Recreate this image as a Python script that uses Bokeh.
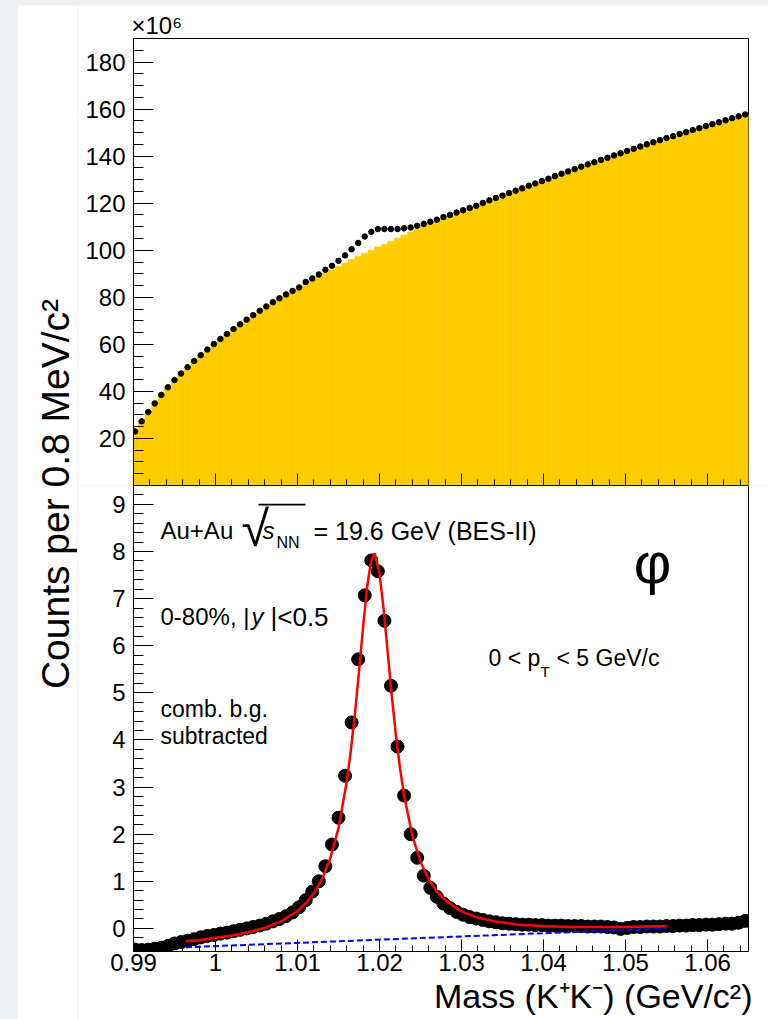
import numpy as np
from bokeh.plotting import figure
from bokeh.layouts import column, row
from bokeh.models import (Range1d, Label, BoxAnnotation, Spacer, Title,
                          SingleIntervalTicker, FixedTicker, CustomJSTickFormatter)
from bokeh.embed import file_html
from bokeh.resources import INLINE

# ---------------------------------------------------------------------------
# K+K- invariant-mass spectra, Au+Au 19.6 GeV (counts in units of 10^6)
# ---------------------------------------------------------------------------
BIN_LOW = 0.9898      # GeV/c^2, lower edge of first bin
BIN_WIDTH = 0.0008    # 0.8 MeV/c^2 bins
N_BINS = 94
mass = np.round(BIN_LOW + BIN_WIDTH * (np.arange(N_BINS) + 0.5), 5)

# same-event K+K- pairs
same_event = [
    23.0, 27.3, 31.2, 34.9, 38.5, 41.8, 44.8, 47.6, 50.3, 52.9,
    55.4, 57.8, 60.1, 62.3, 64.4, 66.5, 68.5, 70.5, 72.4, 74.3,
    76.1, 77.9, 79.6, 81.2, 82.7, 84.2, 86.5, 88.0, 89.7, 91.7,
    93.4, 95.5, 97.8, 100.4, 103.1, 105.8, 107.8, 109.0, 109.0, 109.0,
    109.0, 109.3, 109.7, 110.4, 111.2, 112.1, 113.0, 114.1, 115.0, 116.0,
    117.0, 118.0, 118.9, 120.1, 121.2, 122.2, 123.2, 124.3, 125.3, 126.3,
    127.4, 128.4, 129.4, 130.4, 131.5, 132.5, 133.5, 134.5, 135.5, 136.5,
    137.4, 138.4, 139.3, 140.3, 141.2, 142.2, 143.1, 144.1, 145.0, 145.9,
    146.8, 147.7, 148.5, 149.4, 150.2, 151.1, 151.9, 152.8, 153.6, 154.4,
    155.2, 156.1, 156.9, 157.7,
]

# normalised mixed-event combinatorial background
mixed_event = [
    23.45, 27.76, 31.65, 35.33, 38.91, 42.17, 45.12, 47.89, 50.56, 53.13,
    55.59, 57.96, 60.24, 62.41, 64.49, 66.56, 68.53, 70.50, 72.37, 74.24,
    76.00, 77.75, 79.40, 80.94, 82.36, 83.75, 85.90, 87.22, 88.70, 90.38,
    91.62, 93.15, 94.56, 96.03, 97.39, 98.73, 99.99, 101.42, 102.47, 103.85,
    105.14, 106.48, 107.70, 108.90, 110.08, 111.24, 112.33, 113.57, 114.57, 115.65,
    116.71, 117.76, 118.69, 119.92, 121.05, 122.07, 123.09, 124.20, 125.21, 126.22,
    127.32, 128.33, 129.33, 130.34, 131.44, 132.44, 133.45, 134.45, 135.45, 136.46,
    137.36, 138.36, 139.27, 140.28, 141.21, 142.19, 143.07, 144.07, 144.96, 145.86,
    146.76, 147.65, 148.45, 149.34, 150.14, 151.03, 151.83, 152.72, 153.52, 154.31,
    155.10, 156.00, 156.78, 157.54,
]

# background-subtracted signal
subtracted = [
    -0.45, -0.46, -0.45, -0.43, -0.41, -0.37, -0.32, -0.29, -0.26, -0.23,
    -0.19, -0.16, -0.14, -0.11, -0.09, -0.06, -0.03, 0.00, 0.03, 0.06,
    0.10, 0.15, 0.20, 0.26, 0.34, 0.45, 0.60, 0.78, 1.00, 1.32,
    1.78, 2.35, 3.24, 4.37, 5.71, 7.07, 7.81, 7.58, 6.53, 5.15,
    3.86, 2.82, 2.00, 1.50, 1.12, 0.86, 0.67, 0.53, 0.43, 0.35,
    0.29, 0.24, 0.21, 0.18, 0.15, 0.13, 0.11, 0.10, 0.09, 0.08,
    0.08, 0.07, 0.07, 0.06, 0.06, 0.06, 0.05, 0.05, 0.05, 0.04,
    0.04, 0.04, 0.03, 0.02, -0.01, 0.01, 0.03, 0.03, 0.04, 0.04,
    0.04, 0.05, 0.05, 0.06, 0.06, 0.07, 0.07, 0.08, 0.08, 0.09,
    0.10, 0.10, 0.12, 0.16,
]

# Breit-Wigner + linear fit
fit_mass = [0.9964, 0.998, 1.000, 1.002, 1.004, 1.006, 1.008, 1.010,
            1.011, 1.012, 1.013, 1.014, 1.015, 1.016,
            1.0165, 1.017, 1.0175, 1.018, 1.0185, 1.019, 1.0194,
            1.020, 1.0205, 1.021, 1.0215, 1.022, 1.0225, 1.023,
            1.024, 1.025, 1.026, 1.027, 1.028,
            1.030, 1.032, 1.034,
            1.037, 1.040, 1.043, 1.046, 1.050, 1.055]
fit_counts = [-0.27, -0.25, -0.20, -0.15, -0.08, 0.01, 0.15, 0.37,
              0.53, 0.75, 1.05, 1.49, 2.13, 3.11,
              3.77, 4.55, 5.45, 6.40, 7.26, 7.83, 7.96,
              7.54, 6.78, 5.86, 4.93, 4.10, 3.40, 2.82,
              1.97, 1.41, 1.04, 0.78, 0.60,
              0.36, 0.23, 0.15,
              0.08, 0.05, 0.03, 0.03, 0.03, 0.05]

# residual linear background of the fit
resid_bg_mass = [0.9964, 1.055]
resid_bg_counts = [-0.40, 0.00]

X_MIN, X_MAX = 0.99, 1.065
TOP_Y = (0, 190)
BOT_Y = (-0.49, 9.4)
TOP_Y_TICKS = [20, 40, 60, 80, 100, 120, 140, 160, 180]
TOP_Y_MINOR = [5, 10, 15, 25, 30, 35, 45, 50, 55, 65, 70, 75, 85, 90, 95,
               105, 110, 115, 125, 130, 135, 145, 150, 155, 165, 170, 175, 185]

FONT = "Liberation Sans"
TICK_SIZE = "24px"
YELLOW = "#ffcc00"

FRAME_W = 615
LEFT_B, RIGHT_B = 56, 20
TOP_FRAME_H, BOT_FRAME_H = 447, 466

x_range = Range1d(X_MIN, X_MAX)


def style_x(ax, show_labels):
    ax.ticker = SingleIntervalTicker(interval=0.01, num_minor_ticks=5)
    ax.major_tick_in, ax.major_tick_out = 12, 0
    ax.minor_tick_in, ax.minor_tick_out = 6, 0
    ax.axis_line_color = "black"
    ax.major_tick_line_color = "black"
    ax.minor_tick_line_color = "black"
    if show_labels:
        ax.formatter = CustomJSTickFormatter(
            code="return Number(tick.toFixed(3)).toString();")
        ax.major_label_text_font = FONT
        ax.major_label_text_font_size = TICK_SIZE
        ax.major_label_text_color = "black"
        ax.major_label_standoff = 2
    else:
        ax.major_label_text_font_size = "0px"
        ax.major_label_text_color = None
        ax.major_label_standoff = 0


def style_y(ax, ticker):
    ax.ticker = ticker
    ax.major_tick_in, ax.major_tick_out = 20, 0
    ax.minor_tick_in, ax.minor_tick_out = 10, 0
    ax.axis_line_color = "black"
    ax.major_tick_line_color = "black"
    ax.minor_tick_line_color = "black"
    ax.major_label_text_font = FONT
    ax.major_label_text_font_size = TICK_SIZE
    ax.major_label_text_color = "black"
    ax.major_label_standoff = 8


# ---------------- upper panel: same-event vs mixed-event ----------------
top = figure(x_range=x_range, y_range=Range1d(*TOP_Y),
             frame_width=FRAME_W, frame_height=TOP_FRAME_H,
             min_border_left=LEFT_B, min_border_right=RIGHT_B,
             min_border_top=33, min_border_bottom=0,
             output_backend="svg", toolbar_location=None,
             outline_line_color="black", outline_line_width=1,
             background_fill_color="white", border_fill_color="white")
top.grid.visible = False
style_x(top.xaxis[0], False)
style_y(top.yaxis[0], FixedTicker(ticks=TOP_Y_TICKS, minor_ticks=TOP_Y_MINOR))

# power-of-ten multiplier of the upper y axis
top.title.text = "×10⁶"
top.title.align = "left"
top.title.offset = -2
top.title.standoff = 0
top.title.text_font = FONT
top.title.text_font_size = "24px"
top.title.text_font_style = "normal"
top.title.text_color = "black"

half = BIN_WIDTH / 2
top.quad(left=mass - half, right=mass + half, bottom=0, top=mixed_event,
         fill_color=YELLOW, line_color=YELLOW, line_width=0.6)
top.scatter(mass, same_event, size=5.5, color="black")

# ---------------- lower panel: background subtracted ----------------
bot = figure(x_range=x_range, y_range=Range1d(*BOT_Y),
             frame_width=FRAME_W, frame_height=BOT_FRAME_H,
             min_border_left=LEFT_B, min_border_right=RIGHT_B,
             min_border_top=0, min_border_bottom=68,
             output_backend="svg", toolbar_location=None,
             outline_line_color="black", outline_line_width=1,
             background_fill_color="white", border_fill_color="white")
bot.grid.visible = False
bot.title.visible = False
style_x(bot.xaxis[0], True)
style_y(bot.yaxis[0], SingleIntervalTicker(interval=1, num_minor_ticks=5))

bot.scatter(mass, subtracted, size=13, color="black")
bot.line(resid_bg_mass, resid_bg_counts, color="#0000ff", line_width=2,
         line_dash="6 3")
bot.line(fit_mass, fit_counts, color="#ff0000", line_width=2.5)

# x-axis title, right-aligned under the frame
bot.add_layout(Title(text="Mass (K⁺K⁻) (GeV/c²)", align="right", offset=-4,
                     standoff=3, text_font=FONT, text_font_size="34px",
                     text_font_style="normal", text_color="black"), "below")


# page-pixel helpers for placing annotations inside the lower frame
def px_x(px):
    return X_MIN + (px - 133) * (X_MAX - X_MIN) / FRAME_W


def px_bot(py):
    return BOT_Y[1] - (py - 485) * (BOT_Y[1] - BOT_Y[0]) / BOT_FRAME_H


def text(px, py, s, size="24px", style="normal", font=FONT, align="left"):
    bot.add_layout(Label(x=px_x(px), y=px_bot(py), text=s, text_font=font,
                         text_font_size=size, text_font_style=style,
                         text_align=align, text_baseline="alphabetic",
                         text_color="black"))


text(160, 530, "Au+Au")
text(241, 528, "√", size="50px")
bot.add_layout(BoxAnnotation(left=px_x(258), right=px_x(305),
                             top=px_bot(503.3), bottom=px_bot(505),
                             fill_color="black", fill_alpha=1, line_alpha=0))
text(262, 530, "s", style="italic")
text(276, 542, "NN", size="16px")
text(313, 530, "= 19.6 GeV (BES-II)", size="25px")

text(160, 616, "0-80%, |")
text(251, 616, "y", style="italic")
text(270, 616, "|<0.5", size="26px")

text(160, 708, "comb. b.g.", size="23px")
text(160, 735, "subtracted", size="23px")

text(488, 657, "0 < p", size="23px")
text(540, 671, "T", size="15px")
text(556, 657, "< 5 GeV/c", size="23px")

text(652, 562, "φ", size="58px", align="center")

# ---------------- shared y-axis title ----------------
ytitle = figure(width=60, height=1014, x_range=Range1d(0, 60),
                y_range=Range1d(0, 1014), min_border=0,
                x_axis_location=None, y_axis_location=None,
                output_backend="svg", toolbar_location=None,
                outline_line_color=None,
                background_fill_color="white", border_fill_color="white")
ytitle.grid.visible = False
ytitle.title.visible = False
ytitle.add_layout(Label(x=38, y=525.5, text="Counts per 0.8 MeV/c²",
                        angle=np.pi / 2, text_font=FONT, text_font_size="39px",
                        text_align="center", text_baseline="alphabetic",
                        text_color="black"))

panels = column(top, bot, spacing=0)
body = row(Spacer(width=17, height=1014), ytitle, panels, spacing=0)
page = column(Spacer(width=768, height=5), body, spacing=0,
              styles={"background-color": "#eff0f2"})

open("out.html", "w").write(file_html(page, INLINE, title="phi meson K+K- mass"))
